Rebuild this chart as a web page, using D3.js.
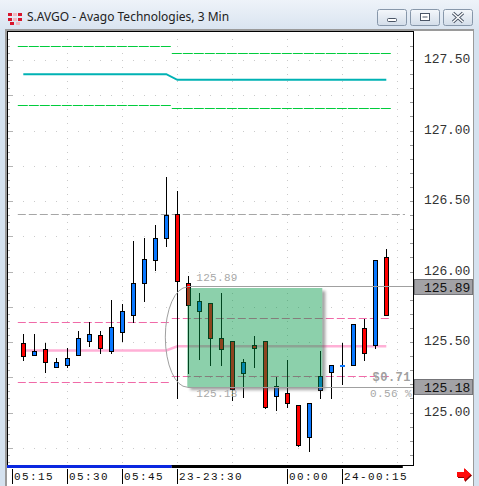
<!DOCTYPE html>
<html>
<head>
<meta charset="utf-8">
<script src="https://cdn.jsdelivr.net/npm/d3@7"></script>
<style>
body { margin: 0; background: #d5e2ef; overflow: hidden; }
svg { display: block; }
</style>
</head>
<body>
<script>
// 3 min bars, two sessions (gap after 05:57)
var times = ["05:18","05:21","05:24","05:27","05:30","05:33","05:36","05:39","05:42","05:45","05:48","05:51","05:54","05:57",
             "23:30","23:33","23:36","23:39","23:42","23:45","23:48","23:51","23:54","23:57","00:00","00:03","00:06","00:09",
             "00:12","00:15","00:18","00:21","00:24","00:27"];
var opens  = [125.49,125.41,125.45,125.32,125.34,125.41,125.51,125.55,125.44,125.57,125.69,125.92,126.08,126.24,
              126.41,125.92,125.72,125.78,125.53,125.51,125.28,125.48,125.51,125.12,125.14,125.05,124.83,125.16,
              125.29,125.34,125.34,125.60,125.48,126.10];
var highs  = [125.56,125.56,125.49,125.39,125.46,125.58,125.64,125.58,125.80,125.77,126.22,126.24,126.33,126.67,
              126.57,125.97,125.85,125.78,125.85,125.51,125.38,125.54,125.51,125.25,125.37,125.05,125.07,125.44,
              125.34,125.49,125.63,125.66,126.08,126.16];
var lows   = [125.37,125.41,125.29,125.32,125.32,125.41,125.47,125.42,125.42,125.51,125.64,125.79,126.01,126.18,
              125.10,125.28,125.38,125.34,125.34,125.09,125.11,125.32,125.03,125.02,125.04,124.76,124.73,125.10,
              125.10,125.20,125.34,125.37,125.46,125.69];
var closes = [125.40,125.44,125.36,125.36,125.39,125.53,125.56,125.46,125.61,125.72,125.92,126.09,126.24,126.40,
              125.93,125.76,125.79,125.53,125.45,125.17,125.36,125.46,125.04,125.19,125.07,124.77,125.07,125.26,
              125.34,125.34,125.63,125.42,126.08,125.69];

// slots on the time axis (one before, two after the bars)
var slots = ["05:15"].concat(times, ["00:30","00:33"]);
var tickSlots = ["05:15","05:30","05:45","23:30","00:00","00:15"];
var tickText  = ["05:15","05:30","05:45","23-23:30","00:00","24-00:15"];
var gridSlots = ["05:30","05:45","23:30","23:45","00:00","00:15","00:30"];
var yTicks = [127.5, 127.0, 126.5, 126.0, 125.5, 125.0];

// indicator levels per session
var sessions  = [["05:18","05:57"], ["23:30","00:27"]];
var envUpper  = [127.60, 127.55];
var envLower  = [127.18, 127.16];
var avgLine   = [127.40, 127.36];
var bandUpper = [125.64, 125.67];
var bandMid   = [125.44, 125.47];
var bandLower = [125.22, 125.26];
var prevLevel = 126.41;

// measured box drawing
var boxFrom = "23:33", boxTo = "00:09";
var boxTop = 125.89, boxBottom = 125.18;
var boxChange = "$0.71", boxPct = "0.56 %";

var W = 479, H = 486;
var L = 7, T = 31, R = 413, B = 465;

var svg = d3.select("body").append("svg").attr("width", W).attr("height", H);
var defs = svg.append("defs");

var x = d3.scalePoint().domain(slots).range([12.3, 408.3]);
var y = d3.scaleLinear().domain([124.628, 127.706]).range([B, T]);
var step = x.step();
var px = function(v) { return Math.round(v) + 0.5; };

// window frame + title bar
var tg = defs.append("linearGradient").attr("id", "titleg").attr("x1", 0).attr("x2", 0).attr("y1", 0).attr("y2", 1);
tg.append("stop").attr("offset", 0).attr("stop-color", "#eef3f9");
tg.append("stop").attr("offset", 1).attr("stop-color", "#d9e4f0");
svg.append("rect").attr("width", W).attr("height", H).attr("fill", "#d5e2ef");
svg.append("rect").attr("width", W).attr("height", 30).attr("fill", "url(#titleg)");
svg.append("rect").attr("x", 5).attr("y", 29).attr("width", 469).attr("height", H - 29).attr("fill", "#9a9a9a");
svg.append("rect").attr("x", 7).attr("y", 31).attr("width", 466).attr("height", H - 31).attr("fill", "#fff");

// title icon
var icon = svg.append("g");
[[8,13],[13,13],[18,13],[8,18],[13,18],[18,18],[10,22],[16,22]].forEach(function(p, i) {
  icon.append("rect").attr("x", p[0]).attr("y", p[1]).attr("width", 4).attr("height", 3)
    .attr("fill", i % 3 == 1 ? "#f2b8c0" : "#d8162c");
});
svg.append("text").attr("x", 27).attr("y", 21)
  .style("font-family", "'Noto Sans', sans-serif").style("font-size", "12px").attr("fill", "#222")
  .text("S.AVGO - Avago Technologies, 3 Min");

// window buttons
var bg = defs.append("linearGradient").attr("id", "btng").attr("x1", 0).attr("x2", 0).attr("y1", 0).attr("y2", 1);
bg.append("stop").attr("offset", 0).attr("stop-color", "#f4f7fb");
bg.append("stop").attr("offset", 1).attr("stop-color", "#d3dde9");
[377, 410, 443].forEach(function(bx, i) {
  var g = svg.append("g");
  g.append("rect").attr("x", bx + 0.5).attr("y", 9.5).attr("width", 29).attr("height", 16).attr("rx", 2)
    .attr("fill", "url(#btng)").attr("stroke", "#8797aa");
  var cx = bx + 15;
  if (i == 0) {
    g.append("rect").attr("x", cx - 4.5).attr("y", 18.5).attr("width", 9).attr("height", 3).attr("rx", 1)
      .attr("fill", "#fff").attr("stroke", "#4a5566");
  } else if (i == 1) {
    g.append("rect").attr("x", cx - 4.5).attr("y", 13.5).attr("width", 9).attr("height", 7)
      .attr("fill", "#fff").attr("stroke", "#4a5566");
    g.append("rect").attr("x", cx - 2.5).attr("y", 16.5).attr("width", 5).attr("height", 1).attr("fill", "#4a5566");
  } else {
    g.append("path").attr("d", "M" + (cx - 5) + ",13 L" + (cx + 5) + ",22 M" + (cx + 5) + ",13 L" + (cx - 5) + ",22")
      .attr("stroke", "#4a5566").attr("stroke-width", 3.2).attr("fill", "none");
    g.append("path").attr("d", "M" + (cx - 5) + ",13 L" + (cx + 5) + ",22 M" + (cx + 5) + ",13 L" + (cx - 5) + ",22")
      .attr("stroke", "#fff").attr("stroke-width", 1.4).attr("fill", "none");
  }
});

// grid dots
var grid = svg.append("g").attr("fill", "#cacaca");
var hLevels = d3.range(124.75, 127.51, 0.25);
hLevels.forEach(function(v) {
  slots.slice(1, 36).forEach(function(s) {
    grid.append("rect").attr("x", Math.round(x(s))).attr("y", Math.round(y(v))).attr("width", 1).attr("height", 1);
  });
});
var vLevels = d3.range(124.65, 127.70, 0.05);
gridSlots.forEach(function(s) {
  vLevels.forEach(function(v) {
    grid.append("rect").attr("x", Math.round(x(s))).attr("y", Math.round(y(v))).attr("width", 1).attr("height", 1);
  });
});

// minor ticks on the left edge and right axis
var ticks = svg.append("g").attr("stroke", "#b4b4b4");
vLevels.forEach(function(v, i) {
  var major = Math.abs(v * 4 - Math.round(v * 4)) < 0.01;
  ticks.append("line").attr("x1", L + 1).attr("x2", L + (major ? 6 : 3))
    .attr("y1", px(y(v))).attr("y2", px(y(v)));
});
d3.range(124.7, 127.7, 0.1).forEach(function(v) {
  ticks.append("line").attr("x1", R - 3).attr("x2", R).attr("y1", px(y(v))).attr("y2", px(y(v))).attr("stroke", "#999");
});

// previous close dashed line
svg.append("line").attr("x1", x(times[0]) - 5.5).attr("x2", R - 8)
  .attr("y1", px(y(prevLevel))).attr("y2", px(y(prevLevel)))
  .attr("stroke", "#a6a6a6").attr("stroke-dasharray", "8,3");

// session dashed lines
function sessionLine(vals, color, dash) {
  sessions.forEach(function(s, i) {
    svg.append("line").attr("x1", x(s[0]) - 5.5).attr("x2", x(s[1]) + 4.5)
      .attr("y1", px(y(vals[i]))).attr("y2", px(y(vals[i])))
      .attr("stroke", color).attr("stroke-dasharray", dash);
  });
}
function sessionOf(t) { return times.indexOf(t) < times.indexOf(sessions[1][0]) ? 0 : 1; }

// pink bands
sessionLine(bandUpper, "#f06aa8", "8,3");
sessionLine(bandLower, "#f06aa8", "8,3");
svg.append("path").datum(times)
  .attr("d", d3.line().x(function(t) { return x(t); }).y(function(t) { return y(bandMid[sessionOf(t)]); }))
  .attr("fill", "none").attr("stroke", "#ffb0d6").attr("stroke-width", 2.5);

// green envelope + teal average
sessionLine(envUpper, "#00cc3c", "10,1");
sessionLine(envLower, "#00cc3c", "10,1");
svg.append("path").datum(times)
  .attr("d", d3.line().x(function(t) { return x(t); }).y(function(t) { return y(avgLine[sessionOf(t)]); }))
  .attr("fill", "none").attr("stroke", "#00b2b4").attr("stroke-width", 2);

// candles
var candles = times.map(function(t, i) {
  return { t: t, o: opens[i], h: highs[i], l: lows[i], c: closes[i] };
});
var cg = svg.append("g");
cg.selectAll("line").data(candles).enter().append("line")
  .attr("x1", function(d) { return px(x(d.t)); })
  .attr("x2", function(d) { return px(x(d.t)); })
  .attr("y1", function(d) { return Math.round(y(d.h)); })
  .attr("y2", function(d) { return Math.round(y(d.l)) + 1; })
  .attr("stroke", "#000");
cg.selectAll("rect").data(candles).enter().append("rect")
  .attr("x", function(d) { return Math.round(x(d.t)) - 1.5; })
  .attr("width", 4)
  .attr("y", function(d) { return px(y(Math.max(d.o, d.c))); })
  .attr("height", function(d) { return Math.max(1, px(y(Math.min(d.o, d.c))) - px(y(Math.max(d.o, d.c)))); })
  .attr("fill", function(d) { return d.c >= d.o ? "#0a78ff" : "#ff0000"; })
  .attr("stroke", function(d) { return d.c == d.o ? "#0a78ff" : "#000"; });

// measured box with shadow
var bx0 = x(boxFrom) - 1, bx1 = x(boxTo) + 2;
var by0 = Math.round(y(boxTop)) + 1, by1 = Math.round(y(boxBottom));
defs.append("filter").attr("id", "blur").append("feGaussianBlur").attr("stdDeviation", 1.6);
var mask = defs.append("mask").attr("id", "boxmask");
mask.append("rect").attr("width", W).attr("height", H).attr("fill", "#fff");
mask.append("rect").attr("x", bx0).attr("y", by0).attr("width", bx1 - bx0).attr("height", by1 - by0).attr("fill", "#000");
svg.append("rect").attr("x", bx0 + 3).attr("y", by0 + 3).attr("width", bx1 - bx0).attr("height", by1 - by0)
  .attr("fill", "#555").attr("opacity", 0.55).attr("filter", "url(#blur)").attr("mask", "url(#boxmask)");
svg.append("rect").attr("x", bx0).attr("y", by0).attr("width", bx1 - bx0).attr("height", by1 - by0)
  .attr("fill", "rgb(0,150,68)").attr("fill-opacity", 0.45);

// ellipse arc on the left of the box
var ry = (y(boxBottom) - y(boxTop)) / 2;
svg.append("path")
  .attr("d", "M" + bx0 + "," + y(boxTop) + " A" + (step * 2) + "," + ry + " 0 0 0 " + bx0 + "," + y(boxBottom))
  .attr("fill", "none").attr("stroke", "#a0a0a0");

// box level lines to the axis
[boxTop, boxBottom].forEach(function(v, i) {
  var yy = px(y(v)) - (i == 0 ? 1 : 0);
  svg.append("line").attr("x1", bx0).attr("x2", R).attr("y1", yy).attr("y2", yy)
    .attr("stroke", "#a0a0a0").attr("stroke-width", 1.2);
});

var mono = "'Liberation Mono', 'DejaVu Sans Mono', monospace";
svg.append("text").attr("x", bx0 + 9).attr("y", y(boxTop) - 6)
  .style("font-family", mono).style("font-size", "11px").style("letter-spacing", "0.3px")
  .attr("fill", "#a8a8a8").text(boxTop.toFixed(2));
svg.append("text").attr("x", bx0 + 9).attr("y", y(boxBottom) + 10)
  .style("font-family", mono).style("font-size", "11px").style("letter-spacing", "0.3px")
  .attr("fill", "#a8a8a8").text(boxBottom.toFixed(2));
svg.append("text").attr("x", 411).attr("y", y(boxBottom) - 6).attr("text-anchor", "end")
  .style("font-family", mono).style("font-size", "12px").style("font-weight", "bold").style("letter-spacing", "0.5px")
  .attr("fill", "#a0a0a0").text(boxChange);
svg.append("text").attr("x", 412).attr("y", y(boxBottom) + 10).attr("text-anchor", "end")
  .style("font-family", mono).style("font-size", "11px").style("letter-spacing", "0.4px")
  .attr("fill", "#a8a8a8").text(boxPct);

// plot border
svg.append("rect").attr("x", L + 0.5).attr("y", T + 0.5).attr("width", R - L).attr("height", B - T)
  .attr("fill", "none").attr("stroke", "#000");

// right axis labels
svg.selectAll("text.ytick").data(yTicks).enter().append("text").attr("class", "ytick")
  .attr("x", 424).attr("y", function(d) { return y(d) + 3; })
  .style("font-family", mono).style("font-size", "13px").style("letter-spacing", "-0.1px")
  .attr("fill", "#333").text(function(d) { return d.toFixed(2); });

// price boxes on the axis
[boxTop, boxBottom].forEach(function(v) {
  var yy = Math.round(y(v));
  svg.append("rect").attr("x", R + 1.5).attr("y", yy - 7.5).attr("width", 58).attr("height", 15)
    .attr("fill", "#a2a2a6").attr("stroke", "#747478");
  svg.append("text").attr("x", 424).attr("y", yy + 5)
    .style("font-family", mono).style("font-size", "13px").style("letter-spacing", "-0.1px")
    .attr("fill", "#111").text(v.toFixed(2));
});

// session bar under the plot
svg.append("rect").attr("x", L).attr("y", B).attr("width", x(sessions[0][1]) + step / 2 - L).attr("height", 3).attr("fill", "#0a28e0");
svg.append("rect").attr("x", x(sessions[0][1]) + step / 2).attr("y", B)
  .attr("width", x("00:30") + step / 2 - x(sessions[0][1]) - step / 2).attr("height", 3).attr("fill", "#000");

// time axis
tickSlots.forEach(function(s, i) {
  var xx = px(x(s));
  svg.append("line").attr("x1", xx).attr("x2", xx).attr("y1", 469).attr("y2", 484).attr("stroke", "#000");
  svg.append("text").attr("x", xx + 1.5).attr("y", 480)
    .style("font-family", mono).style("font-size", "11px").style("letter-spacing", "1.4px")
    .attr("fill", "#111").text(tickText[i]);
});

// red scroll arrow
svg.append("path").attr("d", "M457,472 h7 v-4 l7,6.5 l-7,6.5 v-4 h-7 z").attr("fill", "#8a0000").attr("transform", "translate(1,1)");
svg.append("path").attr("d", "M457,472 h7 v-4 l7,6.5 l-7,6.5 v-4 h-7 z").attr("fill", "#ff0a0a");
</script>
</body>
</html>
